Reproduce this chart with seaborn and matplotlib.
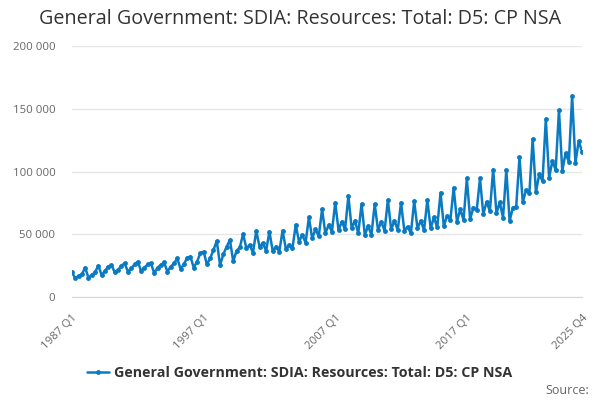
import numpy as np
import pandas as pd
import matplotlib
matplotlib.use('Agg')
import matplotlib.pyplot as plt
import seaborn as sns
from matplotlib.ticker import FuncFormatter, FixedLocator

# quarterly values, one list per quarter, 1987..2025
years = list(range(1987, 2026))
q1 = [19600, 23400, 25000, 25500, 26800, 28100, 26800, 27600, 30800, 32100,
      36100, 44600, 45400, 50200, 52600, 52100, 52900, 57400, 63500, 69900,
      75200, 80500, 74100, 74100, 77300, 75200, 76500, 77300, 83100, 87100,
      94500, 94500, 101500, 101200, 111300, 125900, 141600, 149000, 160200]
q2 = [14900, 15400, 17500, 19600, 20200, 20700, 18900, 20200, 22300, 23400,
      26000, 25500, 28400, 38800, 40100, 36700, 38200, 44100, 46700, 50700,
      53400, 54700, 49400, 53400, 53900, 52900, 54700, 54700, 56600, 60000,
      62200, 65900, 66700, 60600, 75400, 83400, 95100, 100400, 107000]
q3 = [17000, 17500, 20700, 21500, 22800, 23400, 23400, 24200, 26000, 28100,
      30800, 34000, 36800, 41400, 42800, 40100, 41400, 49400, 53900, 57400,
      60000, 60800, 56600, 60000, 60800, 56000, 60800, 63500, 64500, 69900,
      71200, 75900, 75400, 71200, 85300, 97700, 108400, 114500, 124300]
q4 = [18100, 19600, 24200, 25000, 26000, 26000, 25500, 26800, 31300, 34800,
      37500, 40100, 39500, 35300, 36900, 36100, 38800, 43300, 48500, 52000,
      53900, 50700, 49400, 52900, 53400, 50700, 53400, 55500, 61400, 61400,
      69300, 68500, 63200, 72000, 82600, 92400, 101200, 107800, 115800]

series_name = 'General Government: SDIA: Resources: Total: D5: CP NSA'

values = np.column_stack([q1, q2, q3, q4]).ravel()
labels = [f'{y} Q{q}' for y in years for q in range(1, 5)]
df = pd.DataFrame({'idx': np.arange(len(values)), 'label': labels, 'value': values})

sns.set_style('white')
plt.rcParams['font.family'] = ['Open Sans', 'DejaVu Sans']

fig = plt.figure(figsize=(6, 4), dpi=100)
ax = fig.add_axes([0.12, 0.2575, 0.85, 0.6275])

sns.lineplot(data=df, x='idx', y='value', ax=ax, color='#0a7bc2', linewidth=1.8,
             marker='o', markersize=3.5, markeredgewidth=0, label=series_name)

ax.set_xlim(0, len(values) - 1)
ax.set_ylim(0, 200000)
ax.set_yticks([0, 50000, 100000, 150000, 200000])
ax.yaxis.set_major_formatter(FuncFormatter(lambda v, p: f'{int(v):,}'.replace(',', ' ')))
ax.yaxis.grid(True, color='#e6e6e6', linewidth=1)
ax.xaxis.grid(False)

tick_pos = list(range(0, 150, 10)) + [len(values) - 1]
shown = {0, 40, 80, 120, len(values) - 1}
ax.xaxis.set_major_locator(FixedLocator(tick_pos))
ax.set_xticklabels([labels[i] if i in shown else '' for i in tick_pos],
                   rotation=45, ha='right', va='top', rotation_mode='anchor')
ax.tick_params(axis='x', length=7, width=1, color='#ccd6eb', labelcolor='#666666',
               labelsize=8.2, pad=4)
ax.tick_params(axis='y', length=0, labelcolor='#666666', labelsize=8.2, pad=12)

for s in ['top', 'right', 'left']:
    ax.spines[s].set_visible(False)
ax.spines['bottom'].set_color('#ccd6eb')
ax.set_xlabel('')
ax.set_ylabel('')

fig.suptitle(series_name, x=0.5, y=0.977, fontsize=14.2, color='#333333')

ax.get_legend().remove()
handles, lbls = ax.get_legend_handles_labels()
fig.legend(handles, lbls, loc='center', bbox_to_anchor=(0.5, 0.068), frameon=False,
           prop={'weight': 'bold', 'size': 10.3}, labelcolor='#333333',
           handlelength=1.5, handletextpad=0.4)
fig.text(0.982, 0.025, 'Source:', ha='right', va='center', fontsize=9, color='#666666')

fig.savefig('out.png', dpi=100)
